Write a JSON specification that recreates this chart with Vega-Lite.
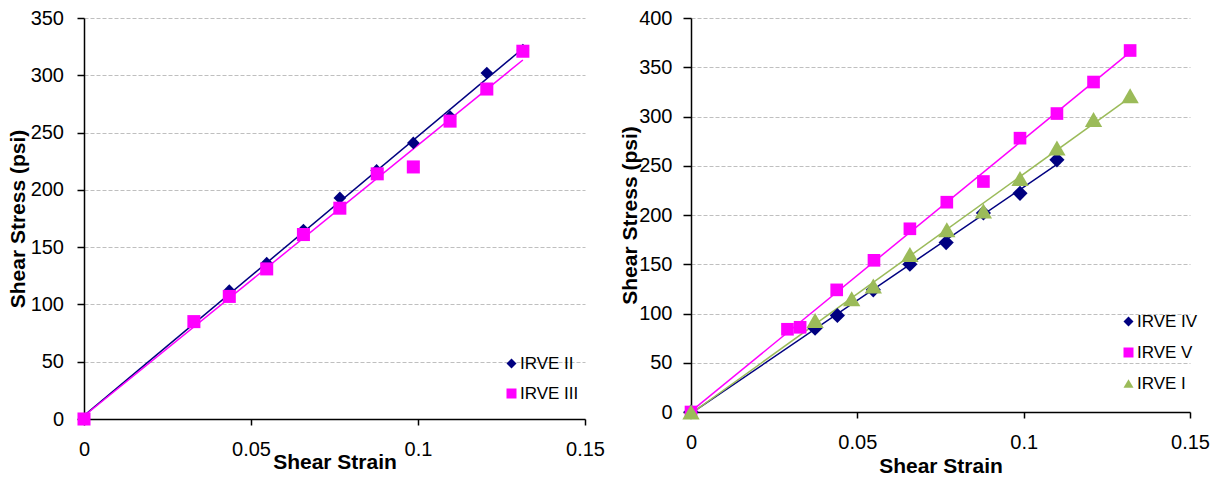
{
  "$schema": "https://vega.github.io/schema/vega-lite/v6.json",
  "padding": {"left": 7, "top": 8, "right": 5, "bottom": 2},
  "background": "white",
  "spacing": 14,
  "config": {
    "font": "Liberation Sans",
    "view": {"stroke": null},
    "axis": {
      "labelFont": "Liberation Sans", "labelFontSize": 20, "labelColor": "#000", "labelFlush": false,
      "titleFont": "Liberation Sans", "titleFontSize": 21, "titleFontWeight": "bold", "titleColor": "#000",
      "domainColor": "#000", "domainWidth": 1.5, "tickColor": "#000", "tickWidth": 1.5,
      "gridColor": "#BFBFBF", "gridDash": [4, 2], "gridWidth": 1
    },
    "legend": {"labelFont": "Liberation Sans", "labelFontSize": 17, "labelColor": "#000", "symbolSize": 100, "symbolStrokeWidth": 0, "labelOffset": 0, "padding": 0}
  },
  "datasets": {
    "left": [
      {"series": "IRVE II", "strain": 0, "stress": 0},
      {"series": "IRVE II", "strain": 0.0435, "stress": 112},
      {"series": "IRVE II", "strain": 0.0547, "stress": 136},
      {"series": "IRVE II", "strain": 0.0657, "stress": 165},
      {"series": "IRVE II", "strain": 0.0766, "stress": 193},
      {"series": "IRVE II", "strain": 0.0876, "stress": 217},
      {"series": "IRVE II", "strain": 0.0986, "stress": 241},
      {"series": "IRVE II", "strain": 0.1096, "stress": 264},
      {"series": "IRVE II", "strain": 0.1206, "stress": 302},
      {"series": "IRVE II", "strain": 0.1314, "stress": 322},
      {"series": "IRVE III", "strain": 0, "stress": 0},
      {"series": "IRVE III", "strain": 0.0329, "stress": 85},
      {"series": "IRVE III", "strain": 0.0435, "stress": 107},
      {"series": "IRVE III", "strain": 0.0547, "stress": 131},
      {"series": "IRVE III", "strain": 0.0657, "stress": 161},
      {"series": "IRVE III", "strain": 0.0766, "stress": 184},
      {"series": "IRVE III", "strain": 0.0878, "stress": 214},
      {"series": "IRVE III", "strain": 0.0986, "stress": 220},
      {"series": "IRVE III", "strain": 0.1096, "stress": 260},
      {"series": "IRVE III", "strain": 0.1206, "stress": 288},
      {"series": "IRVE III", "strain": 0.1314, "stress": 321}
    ],
    "right": [
      {"series": "IRVE IV", "strain": 0, "stress": 0},
      {"series": "IRVE IV", "strain": 0.0373, "stress": 85},
      {"series": "IRVE IV", "strain": 0.044, "stress": 98},
      {"series": "IRVE IV", "strain": 0.0548, "stress": 124},
      {"series": "IRVE IV", "strain": 0.0658, "stress": 150},
      {"series": "IRVE IV", "strain": 0.0767, "stress": 172},
      {"series": "IRVE IV", "strain": 0.0879, "stress": 202},
      {"series": "IRVE IV", "strain": 0.0989, "stress": 222},
      {"series": "IRVE IV", "strain": 0.11, "stress": 256},
      {"series": "IRVE V", "strain": 0, "stress": 0},
      {"series": "IRVE V", "strain": 0.029, "stress": 84},
      {"series": "IRVE V", "strain": 0.0328, "stress": 86},
      {"series": "IRVE V", "strain": 0.0438, "stress": 124},
      {"series": "IRVE V", "strain": 0.055, "stress": 154},
      {"series": "IRVE V", "strain": 0.0658, "stress": 186},
      {"series": "IRVE V", "strain": 0.0769, "stress": 213},
      {"series": "IRVE V", "strain": 0.0879, "stress": 234},
      {"series": "IRVE V", "strain": 0.0989, "stress": 278},
      {"series": "IRVE V", "strain": 0.11, "stress": 303},
      {"series": "IRVE V", "strain": 0.121, "stress": 335},
      {"series": "IRVE V", "strain": 0.132, "stress": 367},
      {"series": "IRVE I", "strain": 0, "stress": 0},
      {"series": "IRVE I", "strain": 0.0373, "stress": 93},
      {"series": "IRVE I", "strain": 0.0483, "stress": 115},
      {"series": "IRVE I", "strain": 0.0548, "stress": 128},
      {"series": "IRVE I", "strain": 0.0658, "stress": 160},
      {"series": "IRVE I", "strain": 0.0769, "stress": 185},
      {"series": "IRVE I", "strain": 0.0879, "stress": 204},
      {"series": "IRVE I", "strain": 0.0989, "stress": 237},
      {"series": "IRVE I", "strain": 0.11, "stress": 268},
      {"series": "IRVE I", "strain": 0.121, "stress": 297},
      {"series": "IRVE I", "strain": 0.132, "stress": 321}
    ]
  },
  "resolve": {"scale": {"color": "independent", "shape": "independent", "size": "independent", "stroke": "independent"}},
  "hconcat": [
    {
      "width": 501,
      "height": 401,
      "data": {"name": "left"},
      "encoding": {
        "x": {"field": "strain", "type": "quantitative", "scale": {"domain": [0, 0.15], "nice": false},
              "axis": {"values": [0, 0.05, 0.1, 0.15], "format": ".2~f", "grid": false, "tickSize": 6, "labelPadding": 14.5, "title": "Shear Strain", "titlePadding": -8}},
        "y": {"field": "stress", "type": "quantitative", "scale": {"domain": [0, 350], "nice": false},
              "axis": {"values": [0, 50, 100, 150, 200, 250, 300, 350], "grid": true, "tickSize": 7, "labelPadding": 13.5, "title": "Shear Stress (psi)", "titlePadding": 2}}
      },
      "layer": [
        {
          "transform": [{"regression": "stress", "on": "strain", "groupby": ["series"]}],
          "mark": {"type": "line", "strokeWidth": 1.5},
          "encoding": {
            "stroke": {"field": "series", "type": "nominal", "scale": {"domain": ["IRVE III", "IRVE II"], "range": ["#FF00FF", "#000080"]}, "legend": null}
          }
        },
        {
          "mark": {"type": "point", "filled": true, "opacity": 1},
          "encoding": {
            "color": {"field": "series", "type": "nominal", "scale": {"domain": ["IRVE II", "IRVE III"], "range": ["#000080", "#FF00FF"]},
                      "legend": {"title": null, "orient": "none", "legendX": 419, "legendY": 337, "rowPadding": 12}},
            "shape": {"field": "series", "type": "nominal", "scale": {"domain": ["IRVE II", "IRVE III"], "range": ["diamond", "square"]},
                      "legend": {"title": null, "orient": "none", "legendX": 419, "legendY": 337, "rowPadding": 12}},
            "size": {"field": "series", "type": "nominal", "scale": {"domain": ["IRVE III", "IRVE II"], "range": [170, 160]}, "legend": null}
          }
        }
      ]
    },
    {
      "width": 499,
      "height": 394,
      "data": {"name": "right"},
      "encoding": {
        "x": {"field": "strain", "type": "quantitative", "scale": {"domain": [0, 0.15], "nice": false},
              "axis": {"values": [0, 0.05, 0.1, 0.15], "format": ".2~f", "grid": false, "tickSize": 6, "labelPadding": 14.5, "title": "Shear Strain", "titlePadding": 3}},
        "y": {"field": "stress", "type": "quantitative", "scale": {"domain": [0, 400], "nice": false},
              "axis": {"values": [0, 50, 100, 150, 200, 250, 300, 350, 400], "grid": true, "tickSize": 8, "labelPadding": 11, "title": "Shear Stress (psi)", "titlePadding": -2}}
      },
      "layer": [
        {
          "transform": [{"regression": "stress", "on": "strain", "groupby": ["series"]}],
          "mark": {"type": "line", "strokeWidth": 1.5},
          "encoding": {
            "stroke": {"field": "series", "type": "nominal", "scale": {"domain": ["IRVE I", "IRVE IV", "IRVE V"], "range": ["#9BBB59", "#000080", "#FF00FF"]}, "legend": null}
          }
        },
        {
          "mark": {"type": "point", "filled": true, "opacity": 1},
          "encoding": {
            "color": {"field": "series", "type": "nominal", "scale": {"domain": ["IRVE IV", "IRVE V", "IRVE I"], "range": ["#000080", "#FF00FF", "#9BBB59"]},
                      "legend": {"title": null, "orient": "none", "legendX": 429, "legendY": 295, "rowPadding": 13}},
            "shape": {"field": "series", "type": "nominal", "scale": {"domain": ["IRVE IV", "IRVE V", "IRVE I"], "range": ["diamond", "square", "triangle-up"]},
                      "legend": {"title": null, "orient": "none", "legendX": 429, "legendY": 295, "rowPadding": 13}},
            "size": {"field": "series", "type": "nominal", "scale": {"domain": ["IRVE I", "IRVE IV", "IRVE V"], "range": [300, 160, 170]}, "legend": null}
          }
        }
      ]
    }
  ]
}
